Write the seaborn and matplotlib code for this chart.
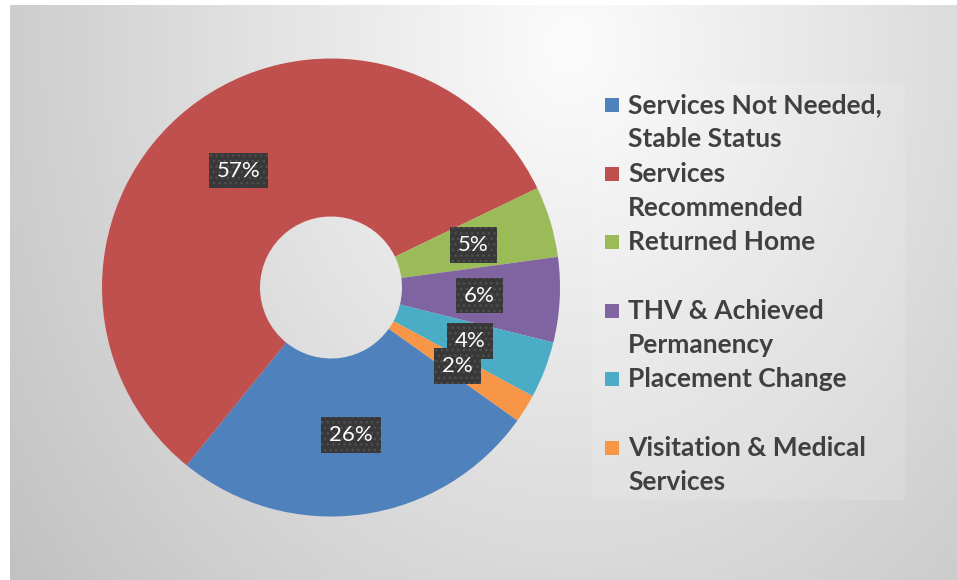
import numpy as np
import matplotlib
matplotlib.use("Agg")
import matplotlib.pyplot as plt
from matplotlib.patches import Rectangle
import seaborn as sns

# ---- data ----
categories = [
    "Services Not Needed,\nStable Status",
    "Services\nRecommended",
    "Returned Home",
    "THV & Achieved\nPermanency",
    "Placement Change",
    "Visitation & Medical\nServices",
]
values = [26, 57, 5, 6, 4, 2]
colors = ["#4F81BD", "#C0504D", "#9BBB59", "#8064A2", "#4BACC6", "#F79646"]

sns.set_theme(style="white")
plt.rcParams["font.family"] = ["Lato", "DejaVu Sans"]
palette = sns.color_palette(colors)

W, H = 957, 580
fig = plt.figure(figsize=(W / 100, H / 100), dpi=100, facecolor="white")

# ---- background gradient panel ----
bx0, by0 = 10, 5
bg = fig.add_axes([bx0 / W, 0, (W - bx0) / W, (H - by0) / H])
yy, xx = np.mgrid[0:H - by0, 0:W - bx0]
dx = (xx - 560) / 480.0
dy = (yy - 40) / 600.0
d = np.sqrt(dx ** 2 + dy ** 2)
val = np.clip(252 - 40 * d, 194, 252) / 255.0
img = np.dstack([val, val, val])
bg.imshow(img, aspect="auto", interpolation="bilinear")
bg.set_axis_off()

# legend panel (slightly lighter)
fig.patches.append(Rectangle((592 / W, 1 - 500 / H), (905 - 592) / W, (500 - 83) / H,
                             transform=fig.transFigure, facecolor="white", alpha=0.12,
                             edgecolor="none", zorder=1))

# ---- donut ----
cx, cy, R = 331, 287.5, 229
ax = fig.add_axes([(cx - R) / W, (H - cy - R) / H, 2 * R / W, 2 * R / H])
ax.set_zorder(2)
wedges, texts, autotexts = ax.pie(
    values, colors=palette, startangle=90 - 125.5, counterclock=False,
    wedgeprops=dict(width=0.69, edgecolor="none"),
    autopct="%1.0f%%", pctdistance=0.65,
    textprops=dict(color="white", fontsize=16),
)
ax.set_xlim(-1, 1)
ax.set_ylim(-1, 1)
ax.set_aspect("equal")
ax.set_axis_off()
ax.patch.set_alpha(0)

for t in autotexts:
    t.set_bbox(dict(boxstyle="square,pad=0.35", facecolor="#383838",
                    edgecolor="#505050", linewidth=0, hatch="..."))

# ---- legend (manual, handles aligned to first line) ----
line_h = 34.3
base0 = 113
sq = 14
for i, (cat, col) in enumerate(zip(categories, palette)):
    for j, line in enumerate(cat.split("\n")):
        b = base0 + (2 * i + j) * line_h
        fig.text(628 / W, 1 - b / H, line, fontsize=19, fontweight="bold",
                 color="#404040", va="baseline", ha="left", zorder=5)
    b = base0 + 2 * i * line_h
    fig.patches.append(Rectangle((605 / W, 1 - (b - 1) / H), sq / W, sq / H,
                                 transform=fig.transFigure, facecolor=col,
                                 edgecolor="none", zorder=5))

fig.savefig("out.png", dpi=100, facecolor="white")
